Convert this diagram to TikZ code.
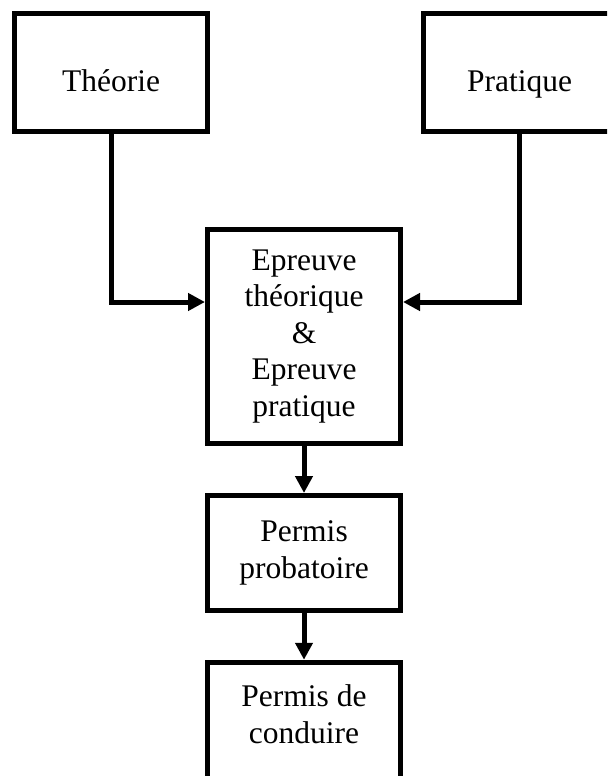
\documentclass[tikz,border=0pt]{standalone}
\usepackage{fontspec}
\setmainfont{Liberation Serif}
\usetikzlibrary{arrows.meta}

\tikzset{
  boite/.style={draw, line width=2.5pt, inner sep=0pt, align=center,
    minimum width=96.5pt, font=\fontsize{15.75}{18.25}\selectfont},
  fleche/.style={line width=2.5pt, -{Triangle[length=8.5pt,width=8.5pt]}}
}

\begin{document}
\begin{tikzpicture}[x=0.5pt, y=-0.5pt]
\useasboundingbox (0,0) rectangle (607,776);
\clip (0,0) rectangle (607,776);
% the two courses
\node[boite, minimum height=58.75pt, text height=19pt, text depth=0pt] (theorie) at (111,72.25) {Théorie};
\node[boite, minimum height=58.75pt, text height=19pt, text depth=0pt] (pratique) at (519.5,72.25) {Pratique};
% the exams and the licences
\node[boite, minimum height=107pt] (epreuve) at (304,336.5) {Epreuve\\théorique\\\&\\Epreuve\\pratique};
\node[boite, minimum height=57.5pt] (probatoire) at (304,553) {Permis\\probatoire};
\node[boite, minimum height=98.75pt, text depth=47pt] (conduire) at (304,761) {Permis de\\conduire};
\draw[fleche] (theorie.south) |- ([yshift=17.25pt]epreuve.west);
\draw[fleche] (pratique.south) |- ([yshift=17.25pt]epreuve.east);
\draw[fleche] (epreuve) -- (probatoire);
\draw[fleche] (probatoire) -- (conduire);
\end{tikzpicture}
\end{document}
